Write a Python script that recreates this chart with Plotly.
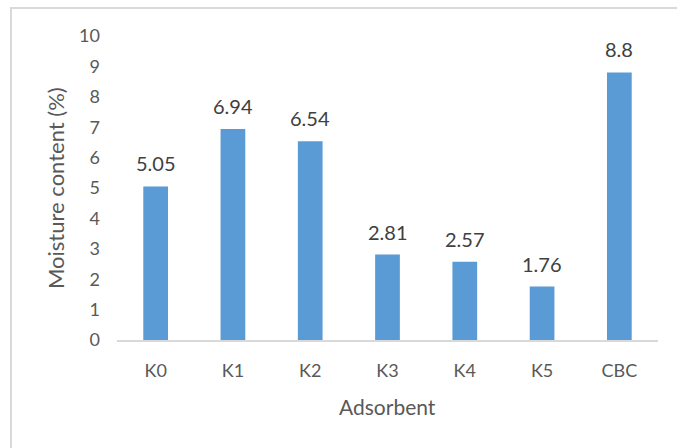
import plotly.graph_objects as go

categories = ["K0", "K1", "K2", "K3", "K4", "K5", "CBC"]
moisture = [5.05, 6.94, 6.54, 2.81, 2.57, 1.76, 8.8]
value_labels = ["5.05", "6.94", "6.54", "2.81", "2.57", "1.76", "8.8"]
y_ticks = [0, 1, 2, 3, 4, 5, 6, 7, 8, 9, 10]

FONT = "Lato, Calibri, Carlito, sans-serif"
W, H = 677, 448
L, R, T, B = 117, 19, 36, 108
plot_w = W - L - R
plot_h = H - T - B

fig = go.Figure(
    go.Bar(
        x=categories,
        y=moisture,
        marker=dict(color="#5B9BD5", line=dict(width=0)),
        hoverinfo="x+y",
    )
)

# value labels above each bar
for cat, val, lab in zip(categories, moisture, value_labels):
    fig.add_annotation(
        x=cat, y=val, text=lab, showarrow=False,
        xanchor="center", yanchor="bottom", yshift=9,
        font=dict(family=FONT, size=20, color="#404040"),
    )

fig.update_layout(
    width=W,
    height=H,
    margin=dict(l=L, r=R, t=T, b=B),
    paper_bgcolor="white",
    plot_bgcolor="white",
    bargap=0.68,
    showlegend=False,
    font=dict(family=FONT, color="#595959", size=18),
)

fig.update_xaxes(
    showline=True,
    linecolor="#d9d9d9",
    linewidth=2,
    showgrid=False,
    ticks="",
    ticklabelstandoff=13,
    tickfont=dict(size=18, color="#595959"),
)
fig.update_yaxes(
    range=[0, 10],
    tickvals=y_ticks,
    showline=False,
    showgrid=False,
    zeroline=False,
    ticks="",
    ticklabelstandoff=16,
    tickfont=dict(size=18, color="#595959"),
)

# axis titles
fig.add_annotation(
    text="Moisture content (%)", textangle=-90,
    xref="paper", yref="paper", x=(55 - L) / plot_w, y=0.5,
    showarrow=False, font=dict(size=22, color="#595959"),
    xanchor="center", yanchor="middle",
)
fig.add_annotation(
    text="Adsorbent",
    xref="paper", yref="paper", x=0.5, y=-(406 - (T + plot_h)) / plot_h,
    showarrow=False, font=dict(size=21, color="#595959"),
    xanchor="center", yanchor="middle",
)

# chart frame
fig.add_shape(
    type="rect", xref="paper", yref="paper",
    x0=(11 - L) / plot_w, x1=(W + 20 - L) / plot_w,
    y0=-(H + 20 - (T + plot_h)) / plot_h, y1=(T + plot_h - 8) / plot_h,
    line=dict(color="#d9d9d9", width=2), fillcolor="rgba(0,0,0,0)",
    layer="below",
)

fig.write_html("out.html")
